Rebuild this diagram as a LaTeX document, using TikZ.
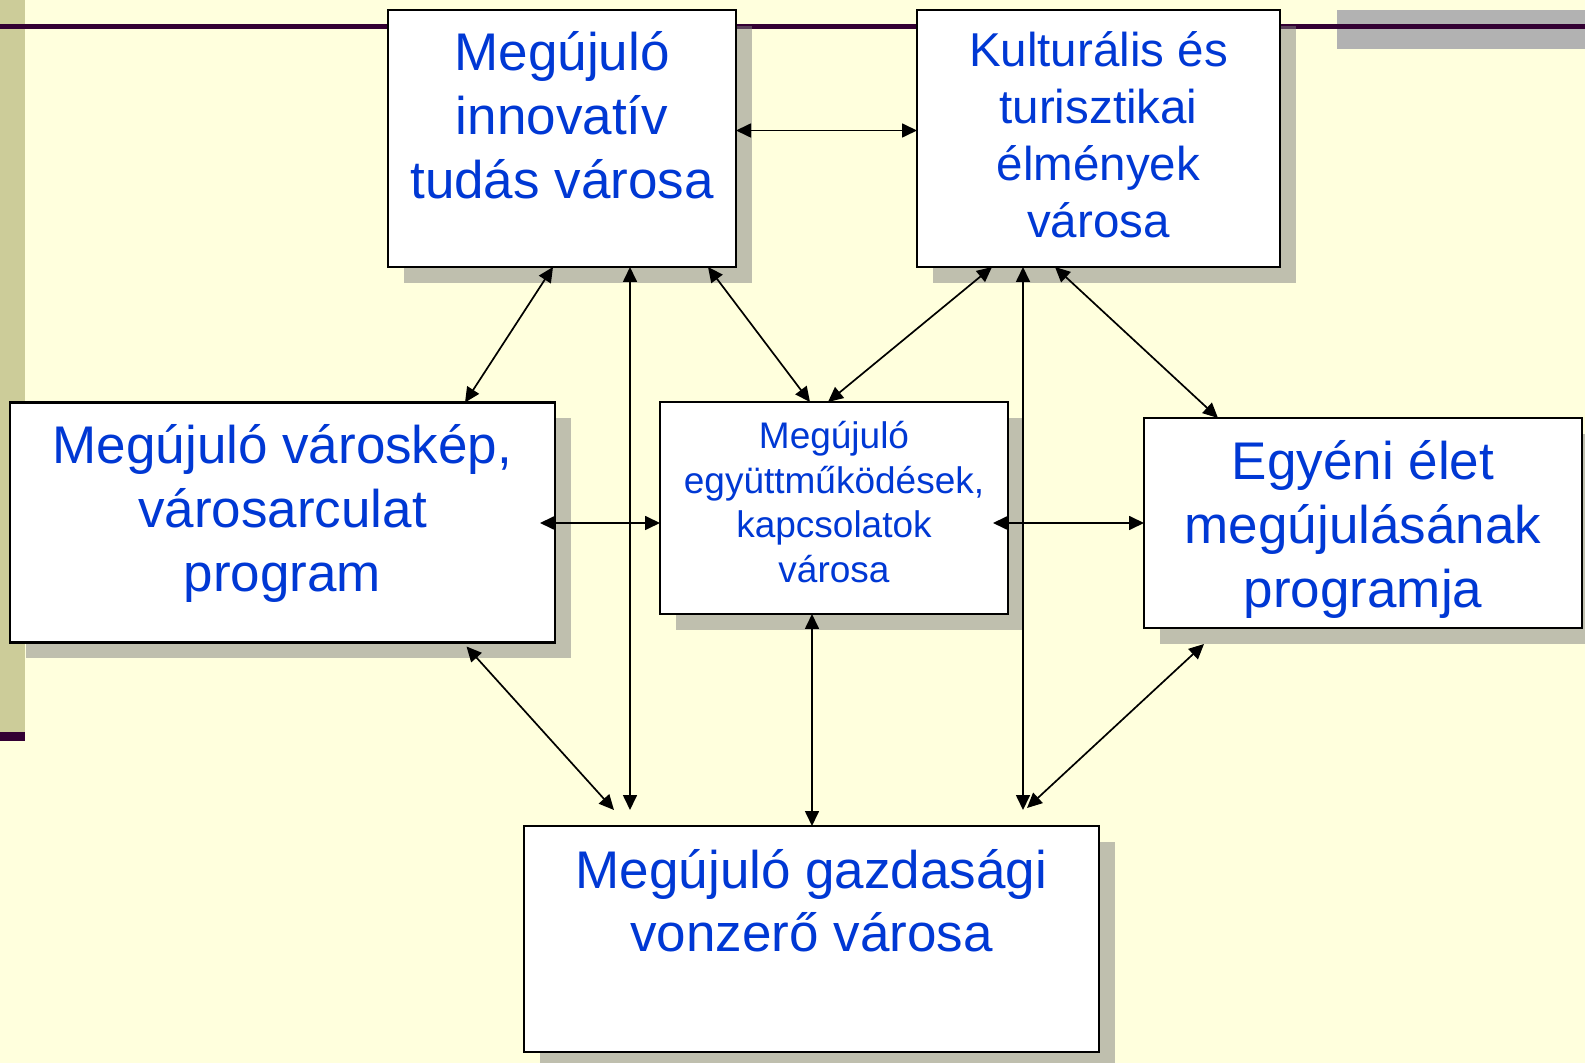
\documentclass[tikz,border=0pt]{standalone}
\usepackage{fontspec}
\setmainfont{Liberation Sans}
\usetikzlibrary{arrows.meta,calc,shadows}
\definecolor{bgc}{HTML}{FFFFDD}
\definecolor{barc}{HTML}{CCCC99}
\definecolor{plum}{HTML}{330033}
\definecolor{greyrect}{HTML}{B2B2B2}
\definecolor{txtc}{RGB}{0,56,212}
\begin{document}
\begin{tikzpicture}[x=0.5pt,y=-0.5pt,
  box/.style={draw=black, line width=1.1pt, fill=white, rectangle, inner sep=0pt, outer sep=0pt,
    drop shadow={shadow xshift=8pt, shadow yshift=-8pt, fill=black!50, opacity=0.5}},
  txt/.style={anchor=base, inner sep=0pt, outer sep=0pt, text=txtc},
  bigtxt/.style={txt, font={\fontsize{26.5pt}{31.8pt}\selectfont}},
  midtxt/.style={txt, font={\fontsize{23.75pt}{28.5pt}\selectfont}},
  smalltxt/.style={txt, font={\fontsize{18.5pt}{22.25pt}\selectfont}},
  conn/.style={arrows={Triangle[length=7.5pt,width=7pt]-Triangle[length=7.5pt,width=7pt]}, line width=0.85pt, draw=black}]
\useasboundingbox (0,0) rectangle (1585,1063);
% background
\fill[bgc] (0,0) rectangle (1585,1063);
\fill[barc] (0,0) rectangle (25,732);
\fill[plum] (0,732) rectangle (25,741);
\fill[greyrect] (1337,10) rectangle (1585,49);
\fill[plum] (0,24) rectangle (1585,29);
% boxes
\node[box, minimum width=174pt, minimum height=128.5pt] (A) at (562,138.5) {};
\node[box, minimum width=181.5pt, minimum height=128.5pt] (B) at (1098.5,138.5) {};
\node[box, minimum width=272.5pt, minimum height=120pt] (C) at (282.5,522.5) {};
\node[box, minimum width=174pt, minimum height=106pt] (D) at (834,508) {};
\node[box, minimum width=219pt, minimum height=105pt] (E) at (1363,523) {};
\node[box, minimum width=287.5pt, minimum height=113pt] (F) at (811.5,939) {};
% texts
\node[bigtxt] (tA) at (562,71) {\begin{tabular}[t]{@{}c@{}}Megújuló\\innovatív\\tudás városa\end{tabular}};
\node[midtxt] (tB) at (1098.5,67) {\begin{tabular}[t]{@{}c@{}}Kulturális és\\turisztikai\\élmények\\városa\end{tabular}};
\node[bigtxt] (tC) at (282.5,464) {\begin{tabular}[t]{@{}c@{}}Megújuló városkép,\\városarculat\\program\end{tabular}};
\node[smalltxt] (tD) at (834,449) {\begin{tabular}[t]{@{}c@{}}Megújuló\\együttműködések,\\kapcsolatok\\városa\end{tabular}};
\node[bigtxt] (tE) at (1363,480) {\begin{tabular}[t]{@{}c@{}}Egyéni élet\\megújulásának\\programja\end{tabular}};
\node[bigtxt] (tF) at (811.5,888) {\begin{tabular}[t]{@{}c@{}}Megújuló gazdasági\\vonzerő városa\end{tabular}};
% free ends
\coordinate (p3) at (630,810);
\coordinate (p6) at (1023,810);
\coordinate (p11) at (614,810);
\coordinate (p12) at (1027,808);
% connectors
\draw[conn] ($(A.east)+(0,-8)$) -- ($(B.west)+(0,-8)$);
\draw[conn] ($(A.south)+(-9,0)$) -- ($(C.north)+(182.5,0)$);
\draw[conn] ($(A.south)+(68,0)$) -- (p3);
\draw[conn] ($(A.south)+(146,0)$) -- ($(D.north)+(-24,0)$);
\draw[conn] ($(B.south)+(-106.5,0)$) -- ($(D.north)+(-6,0)$);
\draw[conn] ($(B.south)+(-75.5,0)$) -- (p6);
\draw[conn] ($(B.south)+(-43.5,0)$) -- ($(E.north)+(-145,0)$);
\draw[conn] ($(C.east)+(-15,0.5)$) -- ($(D.west)+(0,15)$);
\draw[conn] ($(D.east)+(-15,15)$) -- (E.west);
\draw[conn] ($(D.south)+(-22,0)$) -- ($(F.north)+(0.5,0)$);
\draw[conn] ($(C.south)+(184,4)$) -- (p11);
\draw[conn] ($(E.south)+(-159,16)$) -- (p12);
\end{tikzpicture}
\end{document}
